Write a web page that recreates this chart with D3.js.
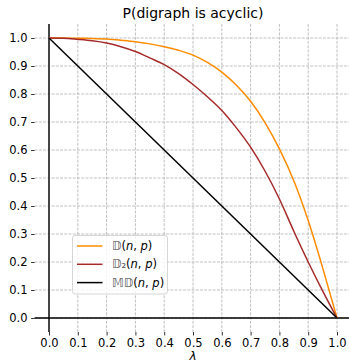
<!DOCTYPE html>
<html>
<head>
<meta charset="utf-8">
<script src="https://cdn.jsdelivr.net/npm/d3@7"></script>
<style>
  body { margin: 0; background: #fff; }
  svg { display: block; font-family: 'DejaVu Sans', sans-serif; }
</style>
</head>
<body>
<svg width="349" height="364"></svg>
<script>
// values
const lambda = [0, 0.05, 0.1, 0.15, 0.2, 0.25, 0.3, 0.35, 0.4, 0.45, 0.5, 0.55, 0.6, 0.65, 0.7, 0.75, 0.8, 0.85, 0.9, 0.95, 1.0]
const pD = [1.0, 1.0, 0.999, 0.998, 0.996, 0.992, 0.987, 0.979, 0.969, 0.956, 0.939, 0.913, 0.878, 0.832, 0.774, 0.698, 0.604, 0.49, 0.348, 0.18, 0]
const pD2 = [1.0, 0.999, 0.995, 0.99, 0.982, 0.969, 0.952, 0.929, 0.905, 0.873, 0.834, 0.79, 0.741, 0.68, 0.61, 0.525, 0.425, 0.31, 0.2, 0.097, 0]
const lambdaMD = [0, 1]
const pMD = [1, 0]
const ticks = [0, 0.1, 0.2, 0.3, 0.4, 0.5, 0.6, 0.7, 0.8, 0.9, 1.0]
const labels = ['𝔻', '𝔻₂', '𝕄𝔻']
const colors = ['darkorange', 'brown', 'black']

const svg = d3.select('svg'),
  pLeft = 34.6, pRight = 351.4, pTop = 24, pBottom = 332,
  x = d3.scaleLinear().domain([-0.05, 1.05]).range([pLeft, pRight]),
  y = d3.scaleLinear().domain([-0.05, 1.05]).range([pBottom, pTop])

// grid
const grid = svg.append('g').attr('stroke', '#b0b0b0').attr('stroke-width', 0.8).attr('stroke-dasharray', '2.96,1.28')
grid.selectAll('.gx').data(ticks).join('line')
  .attr('x1', d => x(d)).attr('x2', d => x(d)).attr('y1', pTop).attr('y2', pBottom)
grid.selectAll('.gy').data(ticks).join('line')
  .attr('y1', d => y(d)).attr('y2', d => y(d)).attr('x1', pLeft).attr('x2', pRight)

// axes
const axisL = svg.append('g').attr('transform', `translate(${pLeft},0)`)
  .call(d3.axisLeft(y).tickValues(ticks).tickFormat(d3.format('.1f')).tickSize(3.5).tickPadding(3.5))
const axisB = svg.append('g').attr('transform', `translate(0,${pBottom})`)
  .call(d3.axisBottom(x).tickValues(ticks).tickFormat(d3.format('.1f')).tickSize(3.5).tickPadding(3.5))
;[axisL, axisB].forEach(a => {
  a.select('.domain').remove()
  a.selectAll('.tick line').attr('stroke', '#000').attr('stroke-width', 0.8)
  a.selectAll('.tick text').attr('font-size', '11.5px').attr('fill', '#000').attr('font-family', 'DejaVu Sans')
})

// zero lines
svg.append('line').attr('x1', x(0)).attr('x2', x(0)).attr('y1', pTop).attr('y2', pBottom)
  .attr('stroke', '#333').attr('stroke-width', 1.8)
svg.append('line').attr('x1', pLeft).attr('x2', pRight).attr('y1', y(0)).attr('y2', y(0))
  .attr('stroke', '#000').attr('stroke-width', 1.5)

// curves
const line = d3.line().x(d => x(d[0])).y(d => y(d[1])).curve(d3.curveMonotoneX)
const series = [d3.zip(lambda, pD), d3.zip(lambda, pD2), d3.zip(lambdaMD, pMD)]
series.forEach((s, i) => {
  svg.append('path').attr('d', line(s)).attr('fill', 'none')
    .attr('stroke', colors[i]).attr('stroke-width', 1.5)
})

// title and x label
svg.append('text').attr('x', (pLeft + pRight) / 2).attr('y', 18).attr('text-anchor', 'middle')
  .attr('font-size', '14px').text('P(digraph is acyclic)')
svg.append('text').attr('x', (pLeft + pRight) / 2).attr('y', 360).attr('text-anchor', 'middle')
  .attr('font-size', '12px').attr('font-style', 'italic').text('λ')

// legend
const lg = svg.append('g').attr('transform', 'translate(72.5,235.5)')
lg.append('rect').attr('width', 95).attr('height', 58.5).attr('rx', 2.5)
  .attr('fill', 'white').attr('fill-opacity', 0.8).attr('stroke', '#cccccc').attr('stroke-width', 0.8)
labels.forEach((l, i) => {
  const g = lg.append('g').attr('transform', `translate(0,${10.5 + i * 18.3})`)
  g.append('line').attr('x1', 4.5).attr('x2', 30).attr('stroke', colors[i]).attr('stroke-width', 1.5)
  const t = g.append('text').attr('x', 39.5).attr('y', 4).attr('font-size', '11.5px')
  t.append('tspan').attr('fill', '#555').text(l)
  t.append('tspan').text('(')
  t.append('tspan').attr('font-style', 'italic').text('n')
  t.append('tspan').text(', ')
  t.append('tspan').attr('font-style', 'italic').text('p')
  t.append('tspan').text(')')
})
</script>
</body>
</html>
